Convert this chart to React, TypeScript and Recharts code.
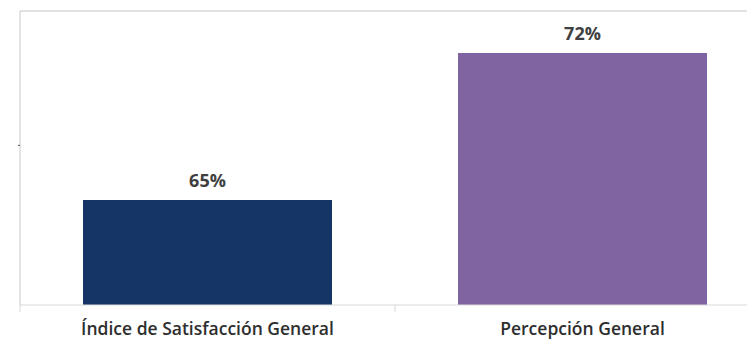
import { Bar, BarChart, LabelList, ReferenceLine, XAxis, YAxis } from "recharts"

const categories = ["Índice de Satisfacción General", "Percepción General"]
const values = [65, 72]
const barColors = ["#143566", "#8063a1"]
const yTicks = [67.6]

const data = categories.map((name, i) => ({ name, value: values[i], color: barColors[i] }))

const CHART_W = 772
const PLOT_LEFT = 20
const BAND = (CHART_W - 2 - PLOT_LEFT) / categories.length

function CategoryTick(props: any) {
  const { x, y, payload, index } = props
  return (
    <g>
      <line x1={x - BAND / 2} x2={x - BAND / 2} y1={y - 8} y2={y - 1} stroke="#d9d9d9" />
      {index === categories.length - 1 && (
        <line x1={x + BAND / 2} x2={x + BAND / 2} y1={y - 8} y2={y - 1} stroke="#d9d9d9" />
      )}
      <text
        x={x}
        y={y + 22}
        textAnchor="middle"
        fill="#2e2e2e"
        fontSize={17.5}
        fontWeight={600}
        fontFamily="'Open Sans', sans-serif"
      >
        {payload.value}
      </text>
    </g>
  )
}

export default function App() {
  return (
    <div style={{ position: "absolute", left: 0, top: 0, width: 747, height: 342, overflow: "hidden", background: "#fff" }}>
      <BarChart
        width={CHART_W}
        height={342}
        data={data}
        margin={{ top: 11, right: 2, bottom: 0, left: 0 }}
        barCategoryGap={63}
      >
        <XAxis
          dataKey="name"
          height={37}
          axisLine={{ stroke: "#d9d9d9" }}
          tickLine={false}
          tick={<CategoryTick />}
          interval={0}
        />
        <YAxis
          width={PLOT_LEFT}
          domain={[60, 74]}
          ticks={yTicks}
          allowDataOverflow
          axisLine={{ stroke: "#c8c8c8" }}
          tickLine={{ stroke: "#555" }}
          tickSize={2}
          tickFormatter={() => ""}
        />
        <ReferenceLine y={74} stroke="#d9d9d9" strokeWidth={1.5} ifOverflow="extendDomain" />
        <Bar dataKey="value" isAnimationActive={false} shape={(p: any) => (
          <rect x={p.x} y={p.y} width={p.width} height={p.height} fill={p.payload.color} />
        )}>
          <LabelList
            dataKey="value"
            position="top"
            offset={13}
            formatter={(v: any) => `${v}%`}
            fill="#404040"
            fontSize={18}
            fontWeight="bold"
            fontFamily="'Open Sans', sans-serif"
          />
        </Bar>
      </BarChart>
    </div>
  )
}
